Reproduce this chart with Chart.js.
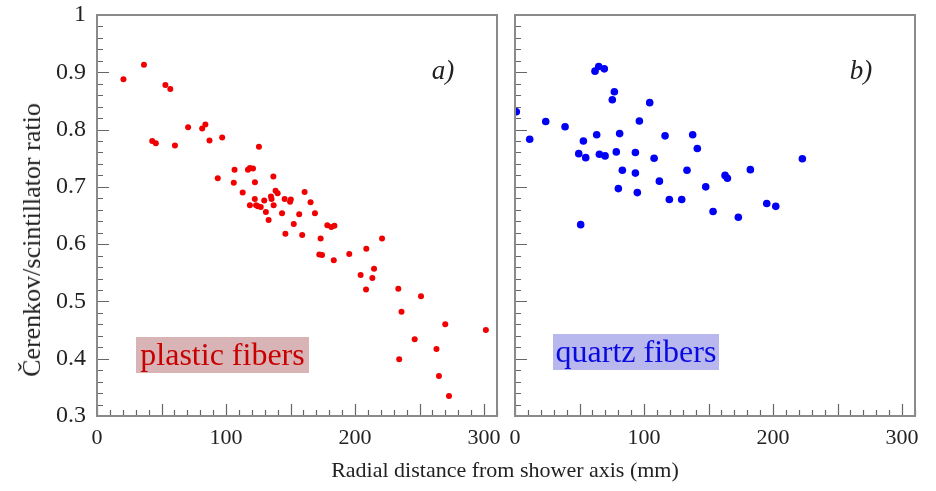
<!DOCTYPE html>
<html>
<head>
<meta charset="utf-8">
<script src="https://cdn.jsdelivr.net/npm/chart.js@4.4.1/dist/chart.umd.min.js"></script>
<style>
  html, body { margin: 0; padding: 0; background: #fff; }
  #wrap { position: relative; width: 936px; height: 491px; font-family: "Liberation Serif", "Times New Roman", serif; color: #222; }
  canvas { position: absolute; top: 0; }
  #c1 { left: 0; }
  #c2 { left: 510px; }
  .ytitle { position: absolute; left: 32px; top: 240px; transform: translate(-50%, -50%) rotate(-90deg); font-size: 26px; white-space: nowrap; }
  .xtitle { position: absolute; left: 505px; top: 470px; transform: translate(-50%, -50%); font-size: 22px; white-space: nowrap; }
  .tag { position: absolute; font-size: 32px; text-align: center; height: 36px; line-height: 34px; white-space: nowrap; }
  .plastic { left: 136px; top: 337px; width: 173px; background: #d9b4b7; color: #c80000; }
  .quartz { left: 553px; top: 334px; width: 166px; background: #b8b8ef; color: #0a0ae0; }
</style>
</head>
<body>
<div id="wrap">
  <canvas id="c1" width="510" height="491"></canvas>
  <canvas id="c2" width="426" height="491"></canvas>
  <div class="ytitle">Čerenkov/scintillator ratio</div>
  <div class="xtitle">Radial distance from shower axis (mm)</div>
  <div class="tag plastic">plastic fibers</div>
  <div class="tag quartz">quartz fibers</div>
</div>
<script>
// ── Data ──────────────────────────────────────────────────────────────────
const plasticR = [20.5, 36.4, 53, 56.8, 42.8, 45.6, 60.4, 70.6, 81.5, 84, 87.2, 97, 125.5, 93.6, 106.6, 106,
  117, 118.5, 120.9, 122.4, 136.7, 112.9, 118.5, 122.3, 123.3, 124.7, 126.9, 129.6, 130.9, 133, 134.8, 135.3,
  136.9, 138.4, 140, 143.4, 145.4, 149.6, 150.2, 146, 152.5, 156.7, 159, 160.9, 165.5, 168.9, 173.3, 172.3,
  174.4, 178.5, 181.6, 184, 183.5, 195.5, 208.7, 220.9, 204.3, 214.7, 213.4, 208.5, 233.5, 251.1, 236, 269.9,
  301.4, 246.2, 263.1, 234.2, 265, 272.8];
const plasticRatio = [0.888, 0.913, 0.878, 0.871, 0.780, 0.776, 0.772, 0.804, 0.802, 0.809, 0.781, 0.786, 0.770, 0.715, 0.730, 0.707,
  0.730, 0.733, 0.732, 0.708, 0.718, 0.690, 0.668, 0.679, 0.668, 0.666, 0.665, 0.676, 0.656, 0.642, 0.683, 0.679,
  0.668, 0.693, 0.689, 0.654, 0.679, 0.674, 0.678, 0.618, 0.635, 0.652, 0.616, 0.691, 0.673, 0.654, 0.610, 0.582,
  0.581, 0.633, 0.630, 0.632, 0.572, 0.583, 0.592, 0.610, 0.546, 0.557, 0.541, 0.521, 0.522, 0.509, 0.482, 0.460,
  0.450, 0.434, 0.417, 0.399, 0.370, 0.335];

const quartzR = [1, 11.4, 23.8, 38.8, 62, 64.9, 69.2, 77, 75.4, 104.4, 96.4, 63.3, 81.1, 53, 49.4, 54.8, 65.4,
  69.8, 78.5, 93.3, 116.3, 137.7, 141.3, 107.8, 83.2, 93.3, 80.1, 94.8, 111.9, 133.3, 119.6, 129.2, 147.8,
  162.8, 164.6, 182.4, 222.7, 153.5, 173.1, 195.1, 202.1, 50.9];
const quartzRatio = [0.831, 0.783, 0.814, 0.805, 0.902, 0.910, 0.906, 0.866, 0.852, 0.847, 0.815, 0.791, 0.793, 0.780, 0.758, 0.751, 0.757,
  0.754, 0.761, 0.760, 0.789, 0.791, 0.767, 0.750, 0.729, 0.724, 0.697, 0.690, 0.710, 0.729, 0.678, 0.678, 0.700,
  0.720, 0.715, 0.730, 0.749, 0.657, 0.647, 0.671, 0.666, 0.634];

const xLabels = [0, 100, 200, 300];
const yLabels = [0.3, 0.4, 0.5, 0.6, 0.7, 0.8, 0.9, 1];

const FONT = '"Liberation Serif", "Times New Roman", serif';

// ── Frame, inside ticks and tick labels (ROOT-like) ──────────────────────
const framePlugin = {
  id: 'frame',
  afterDraw(chart, args, opts) {
    const { ctx, chartArea: a, scales: { x, y } } = chart;
    ctx.save();
    // ticks
    ctx.strokeStyle = '#666';
    ctx.lineWidth = 1.2;
    ctx.beginPath();
    for (let v = 0; v <= 310; v += 10) {
      const px = Math.round(x.getPixelForValue(v)) + 0.5;
      const len = v % 50 === 0 ? 12 : 6;
      ctx.moveTo(px, a.bottom); ctx.lineTo(px, a.bottom - len);
    }
    for (let i = 0; i <= 35; i++) {
      const v = 0.3 + i * 0.02;
      const py = Math.round(y.getPixelForValue(v)) + 0.5;
      const len = i % 5 === 0 ? 12 : 6;
      ctx.moveTo(a.left, py); ctx.lineTo(a.left + len, py);
    }
    ctx.stroke();
    // frame
    ctx.strokeStyle = '#8a8a8a';
    ctx.lineWidth = 2;
    ctx.strokeRect(a.left, a.top, a.right - a.left, a.bottom - a.top);
    // labels
    ctx.fillStyle = '#222';
    ctx.font = '22px ' + FONT;
    ctx.textAlign = 'center';
    ctx.textBaseline = 'middle';
    xLabels.forEach(v => ctx.fillText(String(v), x.getPixelForValue(v), a.bottom + 22));
    if (opts.yLabels) {
      ctx.font = '24px ' + FONT;
      ctx.textAlign = 'right';
      yLabels.forEach(v => ctx.fillText(String(v), a.left - 11, y.getPixelForValue(v)));
    }
    // panel tag
    ctx.font = 'italic 27px ' + FONT;
    ctx.textAlign = 'center';
    ctx.fillText(opts.tag, a.right - 54, a.top + 57);
    ctx.restore();
  }
};

function makeChart(id, xs, ys, color, radius, pad, tag, showY) {
  return new Chart(document.getElementById(id), {
    type: 'scatter',
    data: { datasets: [{ data: xs.map((v, i) => ({ x: v, y: ys[i] })), backgroundColor: color, borderColor: color, pointRadius: radius, borderWidth: 0 }] },
    options: {
      responsive: false, animation: false,
      layout: { padding: pad },
      plugins: { legend: { display: false }, tooltip: { enabled: false }, frame: { tag, yLabels: showY } },
      scales: {
        x: { type: 'linear', min: 0, max: 310, display: false },
        y: { type: 'linear', min: 0.3, max: 1, display: false }
      }
    },
    plugins: [framePlugin]
  });
}

makeChart('c1', plasticR, plasticRatio, '#f00000', 3, { left: 97, right: 13, top: 15, bottom: 75 }, 'a)', true);
makeChart('c2', quartzR, quartzRatio, '#0000f5', 3.8, { left: 5, right: 21, top: 15, bottom: 75 }, 'b)', false);
</script>
</body>
</html>
